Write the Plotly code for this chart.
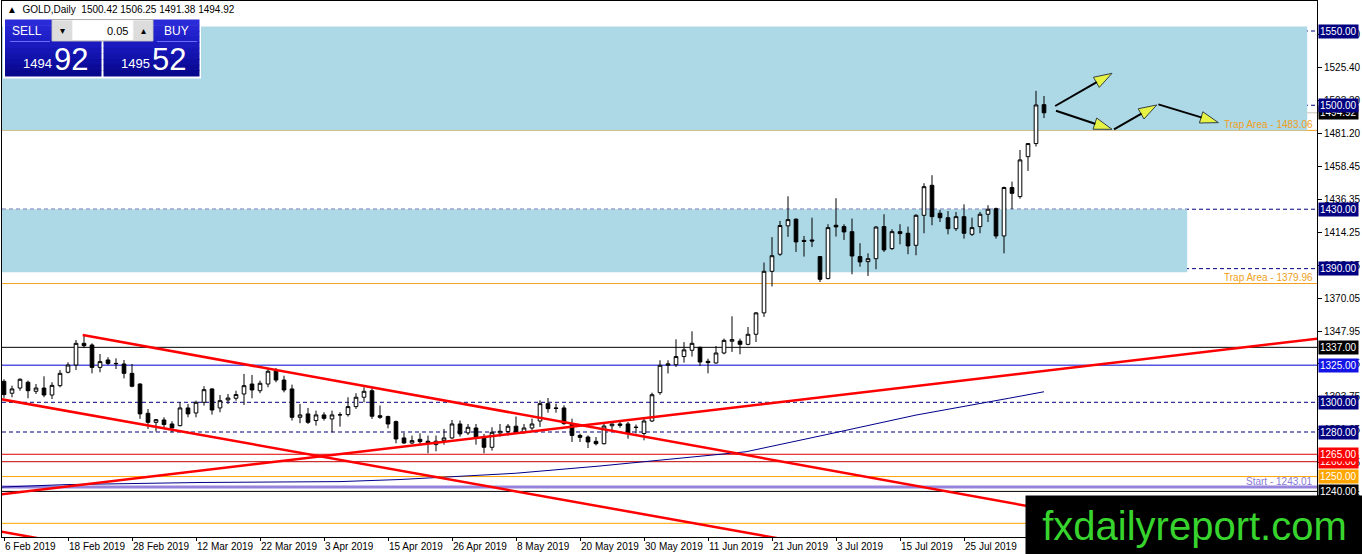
import plotly.graph_objects as go

# ---------------- data ----------------
# bar index 0 = 6 Feb 2019, one bar per trading day
date_ticks = [0, 8, 16, 24, 32, 40, 48, 56, 64, 72, 80, 88, 96, 104, 112, 120]
date_labels = ["6 Feb 2019", "18 Feb 2019", "28 Feb 2019", "12 Mar 2019", "22 Mar 2019",
               "3 Apr 2019", "15 Apr 2019", "26 Apr 2019", "8 May 2019", "20 May 2019",
               "30 May 2019", "11 Jun 2019", "21 Jun 2019", "3 Jul 2019", "15 Jul 2019",
               "25 Jul 2019"]

open_ = [1314.1, 1306.1, 1309.6, 1313.5, 1307.4, 1309.6, 1304.9, 1311.2, 1320.2, 1325.1,
         1339.7, 1338.6, 1323.5, 1328.5, 1326.2, 1325.8, 1319.5, 1312.3, 1292.6, 1286.5,
         1288.1, 1285.4, 1284.3, 1296.2, 1292.8, 1300.0, 1309.0, 1296.2, 1301.6, 1302.7,
         1305.6, 1312.3, 1307.8, 1312.3, 1321.3, 1315.0, 1309.0, 1289.9, 1292.2, 1287.7,
         1291.5, 1288.8, 1291.5, 1291.7, 1297.1, 1303.4, 1307.8, 1291.0, 1290.4, 1287.0,
         1276.0, 1272.6, 1275.1, 1273.8, 1271.5, 1274.2, 1276.0, 1285.4, 1279.4, 1282.7,
         1276.5, 1269.7, 1279.4, 1280.3, 1283.9, 1279.8, 1282.7, 1287.4, 1299.1, 1296.2,
         1296.2, 1285.6, 1277.7, 1276.6, 1273.7, 1272.1, 1284.2, 1285.4, 1285.4, 1283.0,
         1279.0, 1287.4, 1306.5, 1324.9, 1325.3, 1330.8, 1335.0, 1337.0, 1327.6, 1326.5,
         1333.2, 1341.1, 1341.2, 1339.0, 1345.8, 1360.2, 1388.2, 1399.7, 1418.8, 1423.3,
         1409.0, 1409.3, 1398.1, 1383.3, 1419.2, 1418.3, 1414.9, 1398.1, 1394.7, 1396.7,
         1418.3, 1403.5, 1414.9, 1413.8, 1405.7, 1425.9, 1446.1, 1427.3, 1424.3, 1416.9,
         1425.0, 1413.1, 1418.3, 1426.6, 1430.4, 1412.0, 1444.6, 1438.5, 1465.4, 1474.2,
         1500.42]
high = [1315.5, 1311.2, 1316.1, 1314.6, 1312.3, 1317.5, 1313.5, 1321.7, 1326.9, 1341.9,
        1344.8, 1339.7, 1332.5, 1330.3, 1329.6, 1328.5, 1325.8, 1312.8, 1295.5, 1288.8,
        1289.9, 1287.2, 1300.0, 1298.9, 1301.1, 1310.8, 1309.4, 1304.9, 1305.6, 1307.8,
        1319.1, 1318.4, 1314.6, 1323.1, 1323.1, 1317.9, 1311.9, 1298.9, 1296.2, 1294.4,
        1293.3, 1294.4, 1293.3, 1303.4, 1306.1, 1310.1, 1310.1, 1297.8, 1291.0, 1287.7,
        1279.4, 1277.6, 1279.1, 1277.6, 1277.6, 1282.1, 1288.1, 1287.7, 1285.4, 1285.4,
        1278.7, 1283.2, 1285.4, 1285.4, 1290.4, 1285.4, 1289.0, 1301.3, 1302.9, 1299.1,
        1298.0, 1289.0, 1278.9, 1277.7, 1276.6, 1286.3, 1285.6, 1286.7, 1286.7, 1285.0,
        1289.0, 1306.5, 1328.3, 1328.3, 1342.4, 1340.5, 1347.8, 1337.5, 1329.4, 1337.9,
        1342.9, 1357.9, 1342.9, 1350.7, 1360.8, 1394.1, 1411.2, 1422.1, 1438.7, 1423.8,
        1412.0, 1424.3, 1398.5, 1419.9, 1437.4, 1419.9, 1423.7, 1407.1, 1400.3, 1418.6,
        1426.6, 1416.5, 1419.9, 1418.3, 1426.6, 1447.5, 1452.9, 1429.5, 1428.8, 1428.2,
        1433.3, 1424.3, 1428.2, 1432.7, 1431.1, 1445.2, 1448.6, 1469.9, 1474.5, 1509.7,
        1506.25]
low = [1303.0, 1303.4, 1307.8, 1302.7, 1305.6, 1303.4, 1302.2, 1310.1, 1319.5, 1321.7,
       1336.5, 1319.5, 1320.2, 1325.1, 1322.4, 1316.1, 1310.1, 1288.8, 1282.1, 1280.3,
       1282.1, 1279.8, 1283.8, 1289.9, 1289.9, 1297.8, 1291.7, 1293.3, 1298.9, 1301.1,
       1298.2, 1302.7, 1306.1, 1310.1, 1313.5, 1306.7, 1287.7, 1285.9, 1285.4, 1284.3,
       1287.7, 1279.8, 1283.6, 1290.4, 1295.5, 1300.0, 1288.8, 1288.8, 1282.5, 1272.4,
       1272.0, 1272.0, 1272.0, 1265.7, 1267.0, 1271.5, 1275.3, 1276.9, 1278.0, 1271.5,
       1265.7, 1267.5, 1276.9, 1277.6, 1278.7, 1278.7, 1281.1, 1283.4, 1293.0, 1293.0,
       1284.9, 1273.3, 1273.3, 1269.2, 1271.0, 1271.6, 1280.4, 1282.9, 1275.5, 1279.0,
       1274.4, 1286.7, 1305.1, 1319.4, 1323.8, 1326.7, 1330.8, 1324.4, 1319.5, 1326.0,
       1332.3, 1333.9, 1332.3, 1338.4, 1340.6, 1357.5, 1378.0, 1398.6, 1411.4, 1401.2,
       1398.1, 1404.6, 1381.0, 1382.8, 1411.6, 1409.3, 1386.2, 1391.3, 1385.1, 1389.6,
       1401.2, 1402.6, 1406.4, 1399.7, 1399.0, 1413.8, 1419.2, 1421.4, 1413.1, 1415.4,
       1410.2, 1412.0, 1413.8, 1421.4, 1410.2, 1400.3, 1430.0, 1437.1, 1455.8, 1472.2,
       1491.38]
close = [1305.2, 1309.0, 1315.5, 1307.8, 1309.6, 1304.9, 1311.4, 1319.5, 1325.1, 1339.7,
         1338.1, 1323.5, 1327.4, 1326.2, 1326.0, 1319.5, 1310.8, 1292.2, 1286.5, 1288.3,
         1285.0, 1282.7, 1296.2, 1292.2, 1300.0, 1308.5, 1294.8, 1301.1, 1302.9, 1305.2,
         1311.2, 1308.3, 1312.8, 1320.9, 1315.0, 1308.3, 1289.9, 1291.5, 1286.5, 1291.5,
         1289.2, 1291.5, 1291.6, 1297.1, 1303.4, 1307.4, 1290.6, 1289.9, 1285.4, 1275.3,
         1272.6, 1274.2, 1273.5, 1272.4, 1273.8, 1276.0, 1285.4, 1278.7, 1283.2, 1276.5,
         1269.7, 1279.8, 1280.5, 1283.9, 1279.8, 1282.7, 1285.4, 1299.1, 1295.7, 1295.9,
         1285.6, 1277.7, 1276.4, 1273.3, 1272.1, 1284.0, 1285.4, 1284.5, 1279.0, 1283.2,
         1287.4, 1305.1, 1324.9, 1325.9, 1330.8, 1335.3, 1339.7, 1327.1, 1326.7, 1333.2,
         1341.7, 1342.2, 1339.0, 1345.8, 1360.2, 1388.2, 1398.7, 1419.0, 1423.0, 1408.0,
         1408.3, 1408.6, 1382.8, 1417.6, 1418.1, 1414.7, 1398.5, 1394.5, 1396.7, 1418.0,
         1402.6, 1414.9, 1413.6, 1405.3, 1425.9, 1445.2, 1425.0, 1424.3, 1416.9, 1425.0,
         1413.8, 1417.6, 1426.6, 1430.0, 1412.0, 1444.6, 1440.7, 1463.2, 1474.2, 1500.2,
         1494.92]
bars = list(range(len(close)))

# slow moving average (navy curve)
ma_x = [-0.5, 7.9, 24.5, 42, 49.5, 63.9, 74.5, 85.75, 92.75, 102.5, 114, 125.6, 130]
ma_y = [1242.9, 1244.6, 1246.0, 1246.6, 1248.0, 1252.2, 1257.1, 1263.3, 1266.7,
        1277.9, 1291.4, 1302.7, 1307.1]

# red trend lines: (bar, price) end points
trend_lines = [
    ([9.84, 164.2], [1345.3, 1194.8]),
    ([-0.5, 100.0], [1302.2, 1205.3]),
    ([-0.5, 164.2], [1238.0, 1342.9]),
    ([-0.5, 10.0], [1213.0, 1203.0]),
]

# projected path arrows
arrow_x = [[131.4, 138.5], [131.5, 138.5], [138.75, 144.1], [144.3, 151.8]]
arrow_y = [[1499.5, 1521.5], [1496.3, 1483.8], [1483.8, 1500.2], [1500.6, 1488.3]]

# zones (low, high, last bar)
zone_low = [1483.06, 1387.5]
zone_high = [1553.0, 1430.0]
zone_end = [162.9, 147.9]

dashed_levels = [1550, 1500, 1430, 1390, 1300, 1280]
solid_levels = [1337, 1325, 1265, 1260, 1250, 1240, 1218.5]
solid_colors = ["black", "#0000cd", "#e00000", "#c00000", "#ffa500", "black", "#ffa500"]

trap_levels = [1483.06, 1379.96]
start_level = 1243.01
bid = 1494.92

box_levels = [1494.92, 1550, 1500, 1430, 1390, 1337, 1325, 1300, 1280, 1260, 1265, 1250, 1240]
box_colors = ["black", "#000080", "#000080", "#000080", "#000080", "black", "#1414e6",
              "#000080", "#000080", "#ff0000", "#ff0000", "#ffa500", "black"]

axis_ticks = [1547.50, 1525.40, 1503.30, 1481.20, 1458.45, 1436.35, 1414.25, 1392.15,
              1370.05, 1347.95, 1325.85, 1303.75, 1281.65, 1259.55, 1237.45, 1215.35]

FONT = "Liberation Sans, Arial, sans-serif"

# plot area in screen pixels
PL, PR, PT, PB = 2, 1317, 1, 537


def pxx(x):
    return (x - PL) / (PR - PL)


def pxy(y):
    return (PB - y) / (PB - PT)


fig = go.Figure()

# light blue zones
for lo, hi, end in zip(zone_low, zone_high, zone_end):
    fig.add_shape(type="rect", xref="x", yref="y", x0=-2, x1=end, y0=lo, y1=hi,
                  fillcolor="#add8e6", line_width=0, layer="below")

for lv in dashed_levels:
    fig.add_hline(y=lv, line=dict(color="#000080", width=1, dash="4px,3px"), layer="below")
for lv, c in zip(solid_levels, solid_colors):
    fig.add_hline(y=lv, line=dict(color=c, width=1), layer="below")
for lv in trap_levels:
    fig.add_hline(y=lv, line=dict(color="#f0a020", width=1), layer="below")
fig.add_hline(y=start_level, line=dict(color="#9683dc", width=3), layer="below")
fig.add_hline(y=bid, line=dict(color="#c8c0b8", width=1), layer="below")

# moving average
fig.add_trace(go.Scatter(x=ma_x, y=ma_y, mode="lines",
                         line=dict(color="#00008b", width=1), hoverinfo="skip"))

# trend lines
for tx, ty in trend_lines:
    fig.add_trace(go.Scatter(x=tx, y=ty, mode="lines",
                             line=dict(color="#ff0000", width=2.5), hoverinfo="skip"))

fig.add_trace(go.Candlestick(
    x=bars, open=open_, high=high, low=low, close=close,
    increasing=dict(fillcolor="white", line=dict(color="black", width=1)),
    decreasing=dict(fillcolor="black", line=dict(color="black", width=1)),
    whiskerwidth=0, hoverinfo="skip"))

# arrows with yellow heads
for ax_, ay_ in zip(arrow_x, arrow_y):
    fig.add_trace(go.Scatter(
        x=ax_, y=ay_, mode="lines+markers",
        line=dict(color="black", width=2),
        marker=dict(symbol="arrow", size=[0, 19], angleref="previous",
                    color="#ffff00", line=dict(color="black", width=1)),
        hoverinfo="skip"))

# ---- one-click trading panel (decoration) ----
def rect(x0, y0, x1, y1, fill, line=None):
    fig.add_shape(type="rect", xref="paper", yref="paper",
                  x0=pxx(x0), x1=pxx(x1), y0=pxy(y1), y1=pxy(y0),
                  fillcolor=fill, line=dict(width=1 if line else 0, color=line or fill),
                  layer="above")


rect(3, 16, 201, 78.5, "white")
shades = ["#2a2ad8", "#2626d2", "#2222cc", "#1e1ec6", "#1a1abe", "#1616b6",
          "#1212ac", "#0e0ea2", "#0b0b98", "#08088e"]
for bx0, bx1 in [(5, 101.5), (103.5, 199.5)]:
    step = (76 - 19.5) / len(shades)
    for k, c in enumerate(shades):
        rect(bx0, 19.5 + k * step, bx1, 19.5 + (k + 1) * step + 0.6, c)
rect(52, 19.5, 153, 41, "#f4f4f4", "#b0b0b0")
rect(53, 20.5, 72, 40, "#dcdcdc")
rect(73, 20.5, 132.5, 40, "white")
rect(133.5, 20.5, 152, 40, "#dcdcdc")
for sx0, sx1 in [(10, 50), (157, 197)]:
    fig.add_shape(type="line", xref="paper", yref="paper", x0=pxx(sx0), x1=pxx(sx1),
                  y0=pxy(41.5), y1=pxy(41.5), line=dict(color="#6c6cff", width=1),
                  layer="above")

panel_text = [
    ("SELL", 27, 31, 12, "white", "center"),
    ("BUY", 176, 31, 12, "white", "center"),
    ("▾", 62.5, 31, 10, "black", "center"),
    ("0.05", 130, 31, 11, "black", "right"),
    ("▴", 143, 31, 10, "black", "center"),
    ("1494", 37, 64, 13, "white", "center"),
    ("92", 71, 59, 31, "white", "center"),
    ("1495", 135, 64, 13, "white", "center"),
    ("52", 169, 59, 31, "white", "center"),
]
for t, x, y, s, c, anc in panel_text:
    fig.add_annotation(text=t, xref="paper", yref="paper", x=pxx(x), y=pxy(y),
                       xanchor=anc, yanchor="middle", showarrow=False,
                       font=dict(size=s, color=c, family=FONT))

fig.add_annotation(text="▲  GOLD,Daily  1500.42 1506.25 1491.38 1494.92",
                   xref="paper", yref="paper", x=pxx(5), y=pxy(9.5),
                   xanchor="left", yanchor="middle", showarrow=False,
                   font=dict(size=10, color="black", family=FONT))

# level text on the right side of the chart
for lv in trap_levels:
    fig.add_annotation(text=f"Trap Area - {lv:.2f}", xref="paper", yref="y",
                       x=pxx(1315), y=lv, yshift=6, xanchor="right", yanchor="middle",
                       showarrow=False, font=dict(size=10, color="#f0a020", family=FONT))
fig.add_annotation(text=f"Start - {start_level:.2f}", xref="paper", yref="y",
                   x=pxx(1315), y=start_level, yshift=5, xanchor="right",
                   yanchor="middle", showarrow=False,
                   font=dict(size=10, color="#8a7ad8", family=FONT))

# price boxes on the axis
for lv, c in zip(box_levels, box_colors):
    fig.add_annotation(text=f"{lv:.2f}", xref="paper", yref="y", x=1, xshift=1, y=lv,
                       xanchor="left", yanchor="middle", showarrow=False, bgcolor=c,
                       borderpad=1, font=dict(size=10, color="white", family=FONT))

# watermark
fig.add_annotation(text="fxdailyreport.com", xref="paper", yref="paper",
                   x=pxx(1025), y=pxy(495), xanchor="left", yanchor="top",
                   width=337, height=59, bgcolor="black", borderpad=0,
                   showarrow=False, align="center", valign="middle",
                   font=dict(size=40, color="#38d42e", family=FONT))

fig.update_layout(
    width=1362, height=554,
    margin=dict(l=PL, r=1362 - PR, t=PT, b=554 - PB, pad=0),
    paper_bgcolor="white", plot_bgcolor="white",
    showlegend=False, hovermode=False, boxgap=0.35,
    font=dict(family=FONT, size=10, color="black"),
    xaxis=dict(type="linear", range=[-0.25, 164.125], showgrid=False, zeroline=False,
               showline=True, linecolor="black", linewidth=1, mirror=True,
               ticks="outside", ticklen=3, tickcolor="black",
               tickvals=date_ticks, ticktext=date_labels, tickangle=0,
               ticklabelposition="outside right", tickfont=dict(size=10),
               automargin=False, rangeslider=dict(visible=False)),
    yaxis=dict(side="right", range=[1209.3, 1570.2], showgrid=False, zeroline=False,
               showline=True, linecolor="black", linewidth=1, mirror=True,
               ticks="outside", ticklen=4, tickcolor="black",
               tickvals=axis_ticks, ticktext=[f"{v:.2f}" for v in axis_ticks],
               tickfont=dict(size=10), automargin=False),
)

# the page body has a default 8px margin; remove it so the chart fills the window
fig.write_html("out.html", config={"displayModeBar": False},
               post_script="document.body.style.margin='0';")
